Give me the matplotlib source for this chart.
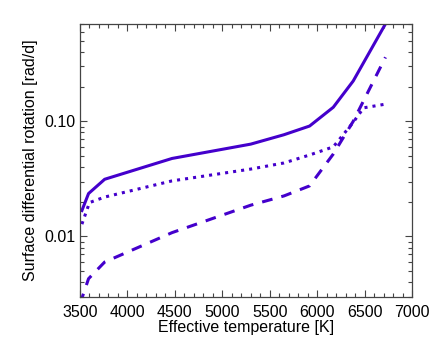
import numpy as np
import matplotlib
matplotlib.use('Agg')
import matplotlib.pyplot as plt
import matplotlib.ticker as ticker

plt.rcParams['font.family'] = ['Liberation Sans', 'DejaVu Sans']

# effective temperature [K] and surface differential rotation [rad/d]
teff_solid = [3520, 3590, 3760, 4470, 5300, 5650, 5920, 6170, 6380, 6740]
dr_solid = [0.0168, 0.0236, 0.0314, 0.0476, 0.0634, 0.0765, 0.091, 0.1325, 0.224, 0.75]

teff_dot = [3520, 3600, 3760, 4470, 5300, 5650, 5920, 6170, 6380, 6490, 6720]
dr_dot = [0.0128, 0.0197, 0.022, 0.0304, 0.0385, 0.0435, 0.051, 0.060, 0.098, 0.131, 0.141]

teff_dash = [3500, 3590, 3760, 4470, 5300, 5650, 5920, 6170, 6380, 6720]
dr_dash = [0.0026, 0.0043, 0.006, 0.0108, 0.0187, 0.0225, 0.0275, 0.052, 0.100, 0.36]

col = '#4400cc'

fig = plt.figure(figsize=(4.36, 3.48), dpi=100)
ax = fig.add_axes([0.1835, 0.1474, 0.7615, 0.7836])

ax.plot(teff_solid, dr_solid, '-', color=col, lw=2.2)
ax.plot(teff_dot, dr_dot, ':', color=col, lw=2.2)
ax.plot(teff_dash, dr_dash, '--', color=col, lw=2.2, dashes=(3.5, 3))

ax.set_yscale('log')
ax.set_xlim(3500, 7000)
ax.set_ylim(0.003, 0.7)

ax.xaxis.set_major_locator(ticker.MultipleLocator(500))
ax.xaxis.set_minor_locator(ticker.MultipleLocator(100))
ax.yaxis.set_major_locator(ticker.FixedLocator([0.01, 0.1]))
ax.yaxis.set_minor_locator(ticker.LogLocator(base=10, subs=np.arange(2, 10)))
ax.yaxis.set_major_formatter(ticker.FixedFormatter(['0.01', '0.10']))
ax.yaxis.set_minor_formatter(ticker.NullFormatter())

for s in ax.spines.values():
    s.set_color('#444444')
    s.set_linewidth(0.9)
ax.tick_params(which='both', direction='in', top=True, right=True,
               color='#444444', labelsize=11.5, width=0.8)
ax.tick_params(which='major', length=5)
ax.tick_params(which='minor', length=2.7)
ax.tick_params(axis='x', pad=6)

ax.set_xlabel('Effective temperature [K]', fontsize=11.5, labelpad=0)
ax.set_ylabel('Surface differential rotation [rad/d]', fontsize=11.5, labelpad=4)

fig.savefig('out.png', dpi=100)
